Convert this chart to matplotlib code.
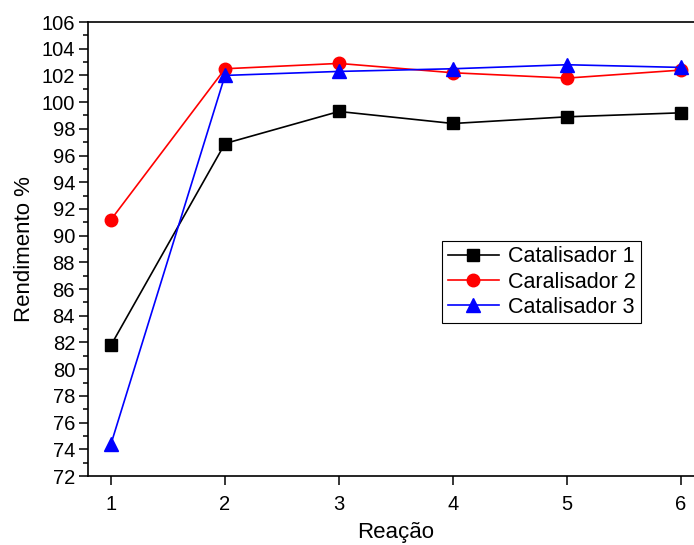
import matplotlib
matplotlib.use("Agg")
import matplotlib.pyplot as plt
from matplotlib.ticker import MultipleLocator

plt.rcParams['font.family'] = ['Liberation Sans', 'DejaVu Sans']

reacao = [1, 2, 3, 4, 5, 6]
catalisador_1 = [81.8, 96.9, 99.3, 98.4, 98.9, 99.2]
catalisador_2 = [91.2, 102.5, 102.9, 102.2, 101.8, 102.4]
catalisador_3 = [74.4, 102.0, 102.3, 102.5, 102.8, 102.6]
labels = ["Catalisador 1", "Caralisador 2", "Catalisador 3"]

fig = plt.figure(figsize=(6.94, 5.45), dpi=100)
ax = fig.add_axes([0.1271, 0.1266, 0.887, 0.833])

ax.plot(reacao, catalisador_1, color='black', lw=1.2, marker='s', ms=8.5, label=labels[0])
ax.plot(reacao, catalisador_2, color='red', lw=1.2, marker='o', ms=9, label=labels[1])
ax.plot(reacao, catalisador_3, color='blue', lw=1.2, marker='^', ms=10, label=labels[2])

ax.set_xlim(0.8, 6.2)
ax.set_ylim(72, 106)
ax.set_xticks(reacao)
ax.yaxis.set_major_locator(MultipleLocator(2))
ax.yaxis.set_minor_locator(MultipleLocator(1))

for s in ['left', 'bottom', 'top', 'right']:
    ax.spines[s].set_linewidth(1.2)

ax.tick_params(axis='both', which='major', direction='out', length=6.5, width=1.1,
               labelsize=14.5, top=False, right=False)
ax.tick_params(axis='y', which='minor', direction='out', length=3.5, width=1.1)
ax.tick_params(axis='y', which='major', pad=3)
ax.tick_params(axis='x', which='major', pad=7)

ax.set_xlabel("Reação", fontsize=16, labelpad=6)
ax.set_ylabel("Rendimento %", fontsize=16, labelpad=5)

leg = ax.legend(loc='upper left', bbox_to_anchor=(0.575, 0.518), borderaxespad=0,
                fontsize=15.5, numpoints=1, handlelength=2.4, fancybox=False,
                edgecolor='black', framealpha=1, borderpad=0.25, labelspacing=0.2,
                handletextpad=0.4)
leg.get_frame().set_linewidth(0.8)

fig.savefig("out.png", dpi=100)
